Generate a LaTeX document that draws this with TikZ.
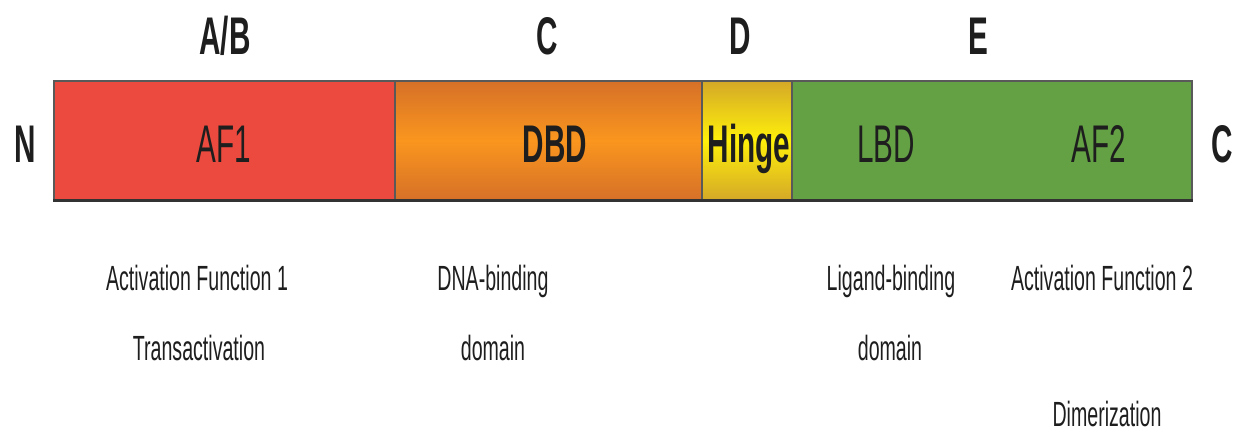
\documentclass[tikz,border=0pt]{standalone}
\usepackage{fontspec}
\newfontfamily\cond[FakeStretch=0.56]{Liberation Sans}
\definecolor{afred}{RGB}{236,74,62}
\definecolor{orgedge}{RGB}{214,112,40}
\definecolor{orgmid}{RGB}{250,150,30}
\definecolor{yeledge}{RGB}{212,168,40}
\definecolor{yelmid}{RGB}{255,240,10}
\definecolor{grn}{RGB}{100,160,68}
\definecolor{txt}{RGB}{30,30,30}
\tikzset{
  seg/.style={rectangle, inner sep=0pt, minimum height=119pt, draw=black!65, line width=1.2pt},
  big/.style={anchor=base, inner sep=0pt, text=txt, font=\cond\fontsize{53}{60}\selectfont},
  bigb/.style={big, font=\cond\bfseries\fontsize{53}{60}\selectfont},
  small/.style={anchor=base, inner sep=0pt, text=txt, font=\cond\fontsize{35}{40}\selectfont}
}
\begin{document}
\begin{tikzpicture}[x=1pt,y=-1pt]
\useasboundingbox (0,0) rectangle (1245,441);
% bar segments
\node[seg, fill=afred, minimum width=341pt] (s1) at (224.5,140.5) {};
\node[seg, top color=orgedge, bottom color=orgedge, middle color=orgmid, minimum width=307pt] (s2) at (548.5,140.5) {};
\node[seg, top color=yeledge, bottom color=yeledge, middle color=yelmid, minimum width=90pt] (s3) at (747,140.5) {};
\node[seg, fill=grn, minimum width=400pt] (s4) at (992,140.5) {};
\draw[black!80, line width=2.5pt] (s1.south west) -- (s4.south east);
% region letters
\node[bigb] (lab) at (225,55) {A/B};
\node[bigb] (lc) at (547,55) {C};
\node[bigb] (ld) at (740,55) {D};
\node[bigb] (le) at (978,55) {E};
% terminals
\node[bigb] (nterm) at (25,162) {N};
\node[bigb] (cterm) at (1222,162) {C};
% domain names
\node[big] (af1) at (224,162) {AF1};
\node[bigb] (dbd) at (555,162) {DBD};
\node[bigb] (hinge) at (749,162) {Hinge};
\node[big] (lbd) at (886,162) {LBD};
\node[big] (af2) at (1099,162) {AF2};
% descriptions
\node[small] (d1) at (197,290) {Activation Function 1};
\node[small] (d2) at (199,360) {Transactivation};
\node[small] (d3) at (493,290) {DNA-binding};
\node[small] (d4) at (493,360) {domain};
\node[small] (d5) at (891,290) {Ligand-binding};
\node[small] (d6) at (890,360) {domain};
\node[small] (d7) at (1102,290) {Activation Function 2};
\node[small] (d8) at (1107,426) {Dimerization};
\end{tikzpicture}
\end{document}
